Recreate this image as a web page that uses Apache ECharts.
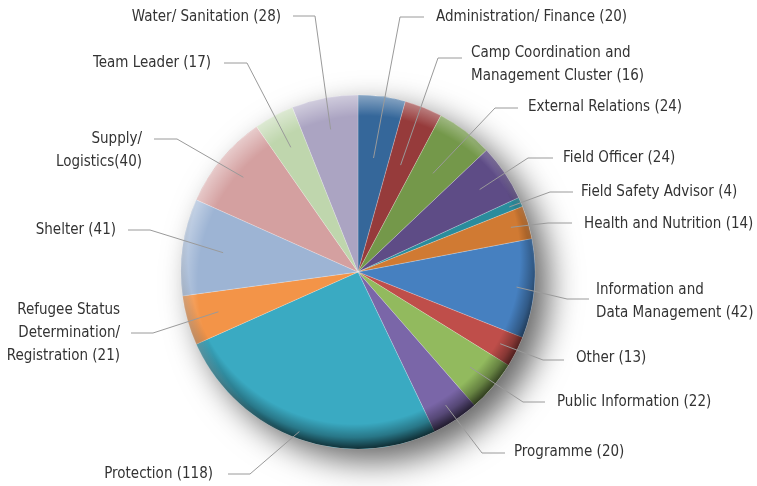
<!DOCTYPE html>
<html><head><meta charset="utf-8">
<script src="https://cdn.jsdelivr.net/npm/echarts@6/dist/echarts.min.js"></script>
<style>html,body{margin:0;padding:0;background:#fff}#c{width:757px;height:486px}</style>
</head><body><div id="c"></div>
<script>
// ---- data ----
const categories = [
  'Administration/ Finance',
  'Camp Coordination and\nManagement Cluster',
  'External Relations',
  'Field Officer',
  'Field Safety Advisor',
  'Health and Nutrition',
  'Information and\nData Management',
  'Other',
  'Public Information',
  'Programme',
  'Protection',
  'Refugee Status\nDetermination/\nRegistration',
  'Shelter',
  'Supply/\nLogistics',
  'Team Leader',
  'Water/ Sanitation'
];
const values = [20, 16, 24, 24, 4, 14, 42, 13, 22, 20, 118, 21, 41, 40, 17, 28];
const tightLabels = ['Supply/\nLogistics']; // no space before the count

// ---- styles ----
const colors = ['#35679a', '#963b3b', '#74984a', '#5e4c86', '#2a8c9c', '#d07a33',
  '#4680c0', '#bf4e4a', '#92ba5e', '#7a66a8', '#3aaac2', '#f39448',
  '#9db4d4', '#d4a0a0', '#bfd6ad', '#aba4c2'];

// ---- label layout (text anchor, elbow, line end, start radius fraction) ----
const CX = 358, CY = 272, R = 177;
const labelLayoutCfg = [
  {tx: 436, ty: 17,  al: 'left',  ex: 400, ey: 17,  lx: 424, ly: 17,  f: 0.65},
  {tx: 471, ty: 65,  al: 'left',  ex: 438, ey: 58,  lx: 462, ly: 58,  f: 0.65},
  {tx: 528, ty: 107, al: 'left',  ex: 495, ey: 108, lx: 518, ly: 108, f: 0.70},
  {tx: 563, ty: 158, al: 'left',  ex: 528, ey: 158, lx: 553, ly: 158, f: 0.83},
  {tx: 581, ty: 192, al: 'left',  ex: 550, ey: 192, lx: 573, ly: 192, f: 0.93},
  {tx: 584, ty: 224, al: 'left',  ex: 548, ey: 223, lx: 572, ly: 223, f: 0.90},
  {tx: 596, ty: 302, al: 'left',  ex: 567, ey: 299, lx: 589, ly: 299, f: 0.90},
  {tx: 576, ty: 358, al: 'left',  ex: 543, ey: 360, lx: 564, ly: 360, f: 0.90},
  {tx: 557, ty: 402, al: 'left',  ex: 523, ey: 402, lx: 545, ly: 402, f: 0.83},
  {tx: 514, ty: 452, al: 'left',  ex: 482, ey: 453, lx: 505, ly: 453, f: 0.90},
  {tx: 213, ty: 474, al: 'right', ex: 250, ey: 474, lx: 228, ly: 474, f: 0.96},
  {tx: 120, ty: 333, al: 'right', ex: 153, ey: 333, lx: 131, ly: 333, f: 0.82},
  {tx: 116, ty: 230, al: 'right', ex: 150, ey: 230, lx: 128, ly: 230, f: 0.77},
  {tx: 142, ty: 151, al: 'right', ex: 177, ey: 139, lx: 154, ly: 139, f: 0.84},
  {tx: 211, ty: 63,  al: 'right', ex: 247, ey: 63,  lx: 224, ly: 63,  f: 0.80},
  {tx: 281, ty: 17,  al: 'right', ex: 315, ey: 16,  lx: 293, ly: 16,  f: 0.82}
];

const FONT = "'Liberation Sans Narrow', 'DejaVu Sans Condensed', 'Roboto Condensed', Roboto, sans-serif";

const chart = echarts.init(document.getElementById('c'), null, {renderer: 'canvas'});

const pieData = categories.map((name, i) => ({
  name: name, value: values[i], itemStyle: {color: colors[i]}
}));
const labelData = categories.map((name, i) => ({name: name, value: values[i]}));

const common = {
  type: 'pie', center: [CX, CY], radius: R, startAngle: 90, clockwise: true,
  animation: false, emphasis: {disabled: true}, silent: true
};

chart.setOption({
  backgroundColor: '#ffffff',
  series: [
    Object.assign({}, common, {
      name: 'shadow', z: 1,
      data: [{value: 1, itemStyle: {color: '#ffffff', shadowBlur: 32, shadowColor: 'rgba(0,0,0,0.6)', shadowOffsetX: 14, shadowOffsetY: 13}}],
      label: {show: false}, labelLine: {show: false}
    }),
    Object.assign({}, common, {
      name: 'staff', z: 2,
      data: pieData,
      itemStyle: {borderColor: 'rgba(255,255,255,0.35)', borderWidth: 0.6},
      label: {show: false}, labelLine: {show: false}
    }),
    Object.assign({}, common, {
      name: 'rimDark', z: 3,
      data: [{value: 1, itemStyle: {color: {
        type: 'radial', x: CX - 4, y: CY - 14, r: R + 16, global: true,
        colorStops: [
          {offset: 0, color: 'rgba(0,0,0,0)'},
          {offset: 0.86, color: 'rgba(0,0,0,0)'},
          {offset: 0.93, color: 'rgba(0,0,0,0.3)'},
          {offset: 1, color: 'rgba(0,0,0,0.8)'}
        ]}}}],
      label: {show: false}, labelLine: {show: false}
    }),
    Object.assign({}, common, {
      name: 'rimLight', z: 3,
      data: [{value: 1, itemStyle: {color: {
        type: 'radial', x: CX + 8, y: CY + 12, r: R + 14, global: true,
        colorStops: [
          {offset: 0, color: 'rgba(255,255,255,0)'},
          {offset: 0.88, color: 'rgba(255,255,255,0)'},
          {offset: 1, color: 'rgba(255,255,255,0.45)'}
        ]}}}],
      label: {show: false}, labelLine: {show: false}
    }),
    Object.assign({}, common, {
      name: 'labels', z: 5,
      data: labelData,
      avoidLabelOverlap: false,
      itemStyle: {color: 'rgba(0,0,0,0)'},
      label: {
        show: true, position: 'outside',
        fontFamily: FONT, fontSize: 15, lineHeight: 23, color: '#333333',
        formatter: p => p.name + (tightLabels.includes(p.name) ? '' : ' ') + '(' + p.value + ')'
      },
      labelLine: {show: true, length: 10, length2: 10, lineStyle: {color: '#9a9a9a', width: 1}},
      labelLayout: function (params) {
        const c = labelLayoutCfg[params.dataIndex];
        const pts = params.labelLinePoints;
        let dx = pts[0][0] - CX, dy = pts[0][1] - CY;
        const len = Math.sqrt(dx * dx + dy * dy) || 1;
        dx /= len; dy /= len;
        const start = [CX + dx * R * c.f, CY + dy * R * c.f];
        return {
          x: c.tx, y: c.ty, align: c.al, verticalAlign: 'middle',
          labelLinePoints: [start, [c.ex, c.ey], [c.lx, c.ly]]
        };
      }
    })
  ]
});
</script>
</body></html>
